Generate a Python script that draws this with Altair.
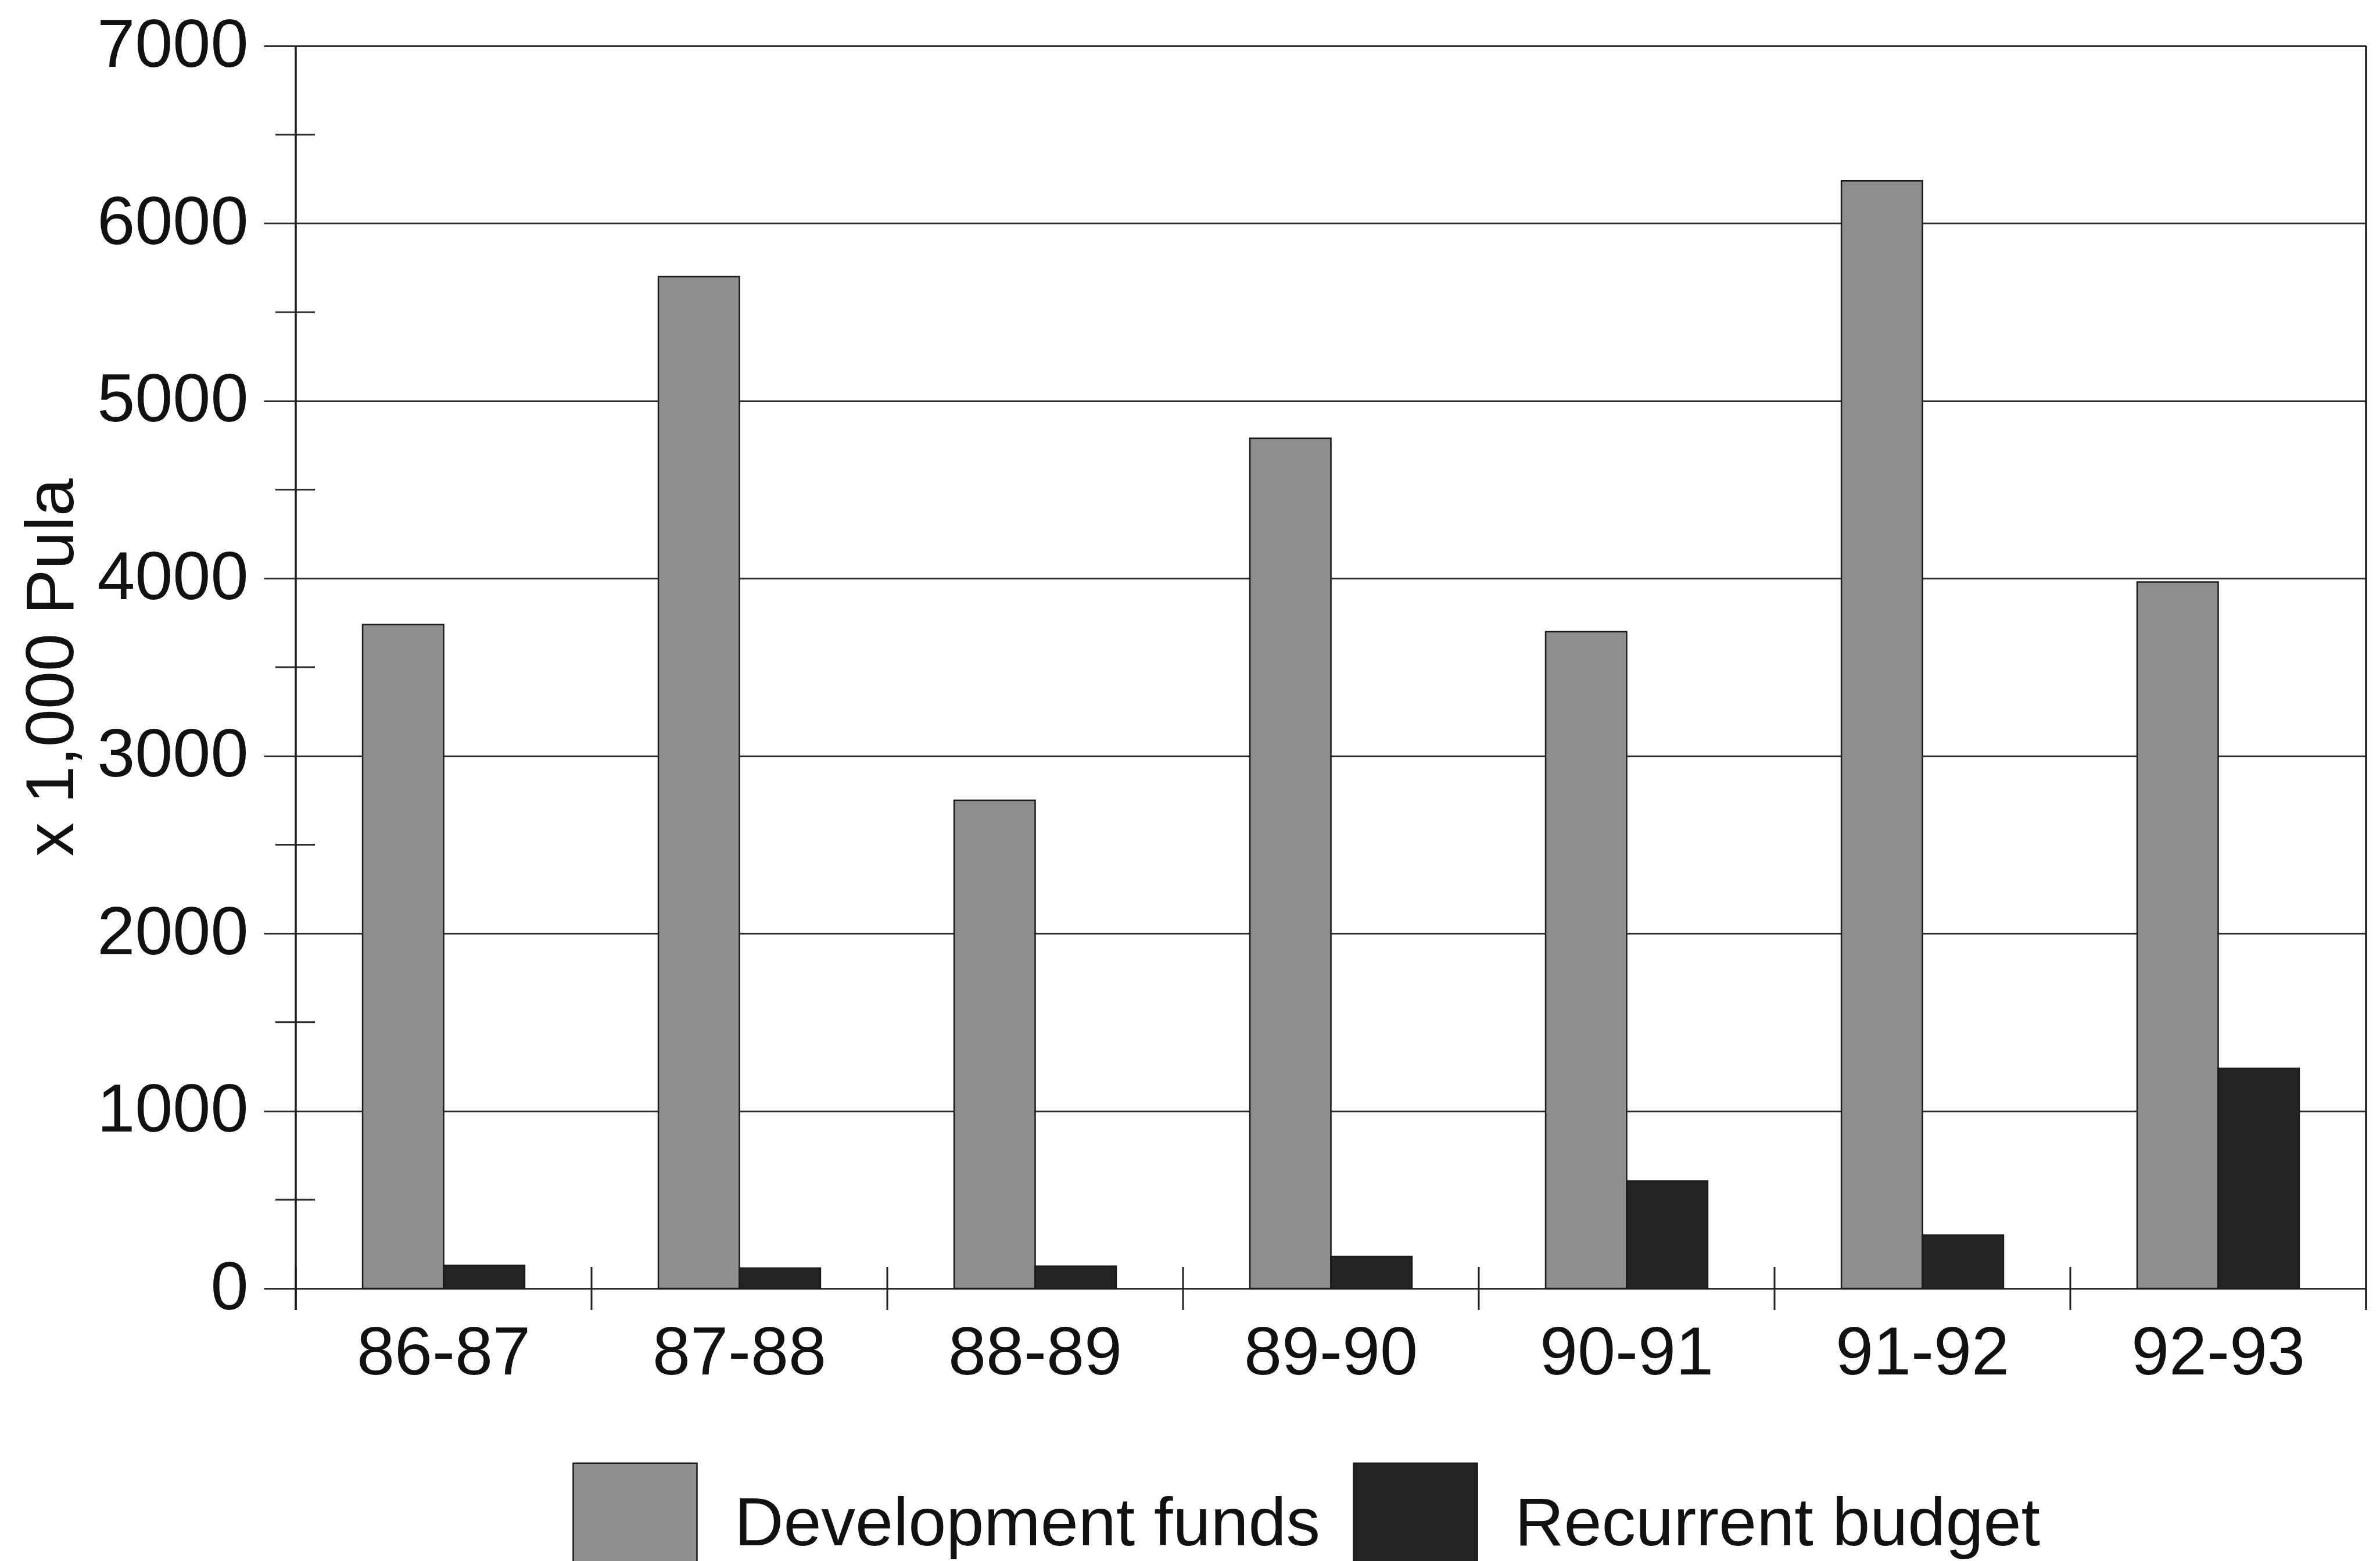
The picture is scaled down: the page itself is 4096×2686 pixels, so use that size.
import altair as alt
import pandas as pd

# Budget per financial year (x 1,000 Pula)
periods = ["86-87", "87-88", "88-89", "89-90", "90-91", "91-92", "92-93"]
development_funds = [3740, 5700, 2750, 4790, 3700, 6240, 3980]
recurrent_budget = [130, 115, 125, 180, 605, 300, 1240]

series_names = ["Development funds", "Recurrent budget"]
series_colors = ["#8e8e8e", "#242424"]

y_major = [0, 1000, 2000, 3000, 4000, 5000, 6000, 7000]
y_minor = [500, 1500, 2500, 3500, 4500, 5500, 6500]

# plot area and surrounding space (pixels)
W, H = 3563, 2138
PAD = {"left": 509, "top": 79, "right": 24, "bottom": 469}

FONT = "Liberation Sans"
FS = 117
INK = "#111111"
LINE = "#2e2e2e"

rows = []
for p, d, r in zip(periods, development_funds, recurrent_budget):
    rows.append({"period": p, "series": series_names[0], "value": d})
    rows.append({"period": p, "series": series_names[1], "value": r})
df = pd.DataFrame(rows)

x_scale = alt.Scale(paddingInner=0, paddingOuter=0)
y_scale = alt.Scale(domain=[0, 7000], nice=False, zero=True)

bars = alt.Chart(df).mark_bar(stroke="#1a1a1a", strokeWidth=2.5).encode(
    x=alt.X(
        "period:N", sort=periods, scale=x_scale,
        axis=alt.Axis(
            title=None, domain=False, ticks=False, grid=False, labelAngle=0,
            labelFont=FONT, labelFontSize=FS, labelColor=INK, labelPadding=55,
            labelLimit=1000,
        ),
    ),
    xOffset=alt.XOffset(
        "series:N", sort=series_names,
        scale=alt.Scale(paddingInner=0, paddingOuter=0.825),
    ),
    y=alt.Y(
        "value:Q", scale=y_scale,
        axis=alt.Axis(
            values=y_major, format="d", domain=False,
            grid=True, gridColor=LINE, gridWidth=3, gridOpacity=1,
            tickSize=55, tickColor=LINE, tickWidth=3,
            labelFont=FONT, labelFontSize=FS, labelColor=INK, labelPadding=27,
            labelLimit=1000,
            title="x 1,000 Pula", titleFont=FONT, titleFontSize=FS,
            titleFontWeight="normal", titleColor=INK, titleAngle=270,
            titleX=-419, titleY=H / 2, titleBaseline="middle", titleAlign="center",
            titleLimit=2000,
        ),
    ),
    color=alt.Color(
        "series:N", sort=series_names,
        scale=alt.Scale(domain=series_names, range=series_colors),
        legend=alt.Legend(
            title=None, orient="none", legendX=476, legendY=2437,
            direction="horizontal", symbolType="square", symbolSize=45369,
            symbolStrokeColor="#1a1a1a", symbolStrokeWidth=2.5, symbolOpacity=1,
            labelFont=FONT, labelFontSize=FS, labelColor=INK, labelOffset=63,
            labelLimit=3000, columnPadding=51, padding=0,
        ),
    ),
)

# half-step ticks crossing the value axis
minor = alt.Chart(pd.DataFrame({"value": y_minor})).mark_rule(
    color=LINE, strokeWidth=3
).encode(
    y=alt.Y("value:Q", scale=y_scale),
    x=alt.value(-35),
    x2=alt.value(33),
)

# category boundary ticks crossing the baseline
cat_ticks = alt.Chart(pd.DataFrame({"period": periods})).mark_rule(
    color="#222222", strokeWidth=3
).encode(
    x=alt.X("period:N", sort=periods, scale=x_scale, bandPosition=0),
    y=alt.value(H - 37),
    y2=alt.value(H + 37),
)

# left axis line and right frame edge, both running a little below the baseline
one = pd.DataFrame({"k": [0]})
left_edge = alt.Chart(one).mark_rule(color="#1a1a1a", strokeWidth=3.5).encode(
    x=alt.value(0), y=alt.value(0), y2=alt.value(H + 37)
)
right_edge = alt.Chart(one).mark_rule(color="#1a1a1a", strokeWidth=3.5).encode(
    x=alt.value(W), y=alt.value(0), y2=alt.value(H + 37)
)

chart = alt.layer(bars, minor, cat_ticks, left_edge, right_edge).properties(
    width=W,
    height=H,
    padding=PAD,
    autosize=alt.AutoSizeParams(type="none"),
    background="white",
).configure_view(stroke=None)

chart.save("out.html", embed_options={"renderer": "svg", "actions": False})
